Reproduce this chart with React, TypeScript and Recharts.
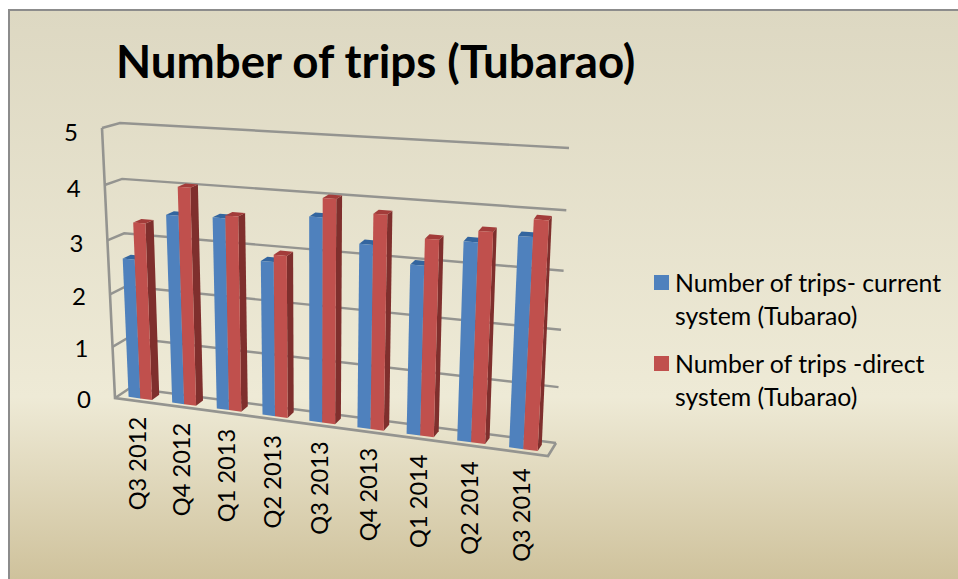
import { Bar, BarChart, CartesianGrid, Legend, XAxis, YAxis } from "recharts";

const quarters = ["Q3 2012", "Q4 2012", "Q1 2013", "Q2 2013", "Q3 2013", "Q4 2013", "Q1 2014", "Q2 2014", "Q3 2014"];
const currentSystem = [2.65, 3.52, 3.54, 2.84, 3.69, 3.29, 3.01, 3.48, 3.64];
const directSystem = [3.33, 4.03, 3.59, 2.97, 4.02, 3.82, 3.47, 3.67, 3.93];
const valueTicks = [0, 1, 2, 3, 4, 5];

const rows = quarters.map((q, i) => ({ q, current: currentSystem[i], direct: directSystem[i] }));

const FONT = "Lato, sans-serif";
const PLOT = { left: 100, top: 100, width: 500, height: 300 };

type Pt = [number, number];
const mix = (a: Pt, b: Pt, t: number): Pt => [a[0] + (b[0] - a[0]) * t, a[1] + (b[1] - a[1]) * t];

// box corners of the tilted 3D plot, as they sit on the page
const box = {
  flb: [115, 398] as Pt,
  frb: [548, 456] as Pt,
  blb: [130, 388] as Pt,
  brb: [556, 443] as Pt,
  flt: [102, 128] as Pt,
  frt: [564, 156] as Pt,
  blt: [120, 123] as Pt,
  brt: [569, 148] as Pt,
};

// u along categories, v up the value axis, w into the depth (all 0..1)
function project(u: number, v: number, w: number): Pt {
  const t = u / (u + (1 - u) * 1.12);
  const s = v / (v + (1 - v) * 1.07);
  const bottom = mix(mix(box.flb, box.frb, t), mix(box.blb, box.brb, t), w);
  const top = mix(mix(box.flt, box.frt, t), mix(box.blt, box.brt, t), w);
  return mix(bottom, top, s);
}

const toU = (x: number) => (x - PLOT.left) / PLOT.width;
const toV = (y: number) => (PLOT.top + PLOT.height - y) / PLOT.height;
const pts = (list: Pt[]) => list.map((p) => `${p[0].toFixed(1)},${p[1].toFixed(1)}`).join(" ");

const BAR_FRONT = 0.25;
const BAR_BACK = 0.75;

function makeBar(front: string, top: string, side: string) {
  return function Bar3D(props: any) {
    const { x, y, width } = props;
    const u0 = toU(x);
    const u1 = toU(x + width);
    const v = toV(y);
    const f = BAR_FRONT;
    const b = BAR_BACK;
    return (
      <g>
        <polygon fill={side} points={pts([project(u1, 0, f), project(u1, 0, b), project(u1, v, b), project(u1, v, f)])} />
        <polygon fill={top} points={pts([project(u0, v, f), project(u1, v, f), project(u1, v, b), project(u0, v, b)])} />
        <polygon fill={front} points={pts([project(u0, 0, f), project(u1, 0, f), project(u1, v, f), project(u0, v, f)])} />
      </g>
    );
  };
}

const LINE = "#949490";

function GridLine(props: any) {
  const v = toV(props.y1);
  const isFloor = Math.abs(v) < 0.001;
  return (
    <g key={props.y1} fill="none" stroke={LINE} strokeWidth={2.4}>
      <polyline points={pts([project(0, v, 0), project(0, v, 1), project(1, v, 1)])} />
      {isFloor && <polyline points={pts([project(0, 1, 0), project(0, 0, 0), project(1, 0, 0), project(1, 0, 1)])} strokeWidth={2.6} />}
    </g>
  );
}

function ValueTick(props: any) {
  const v = toV(props.y);
  const [px, py] = project(0, v, 0);
  return (
    <text x={px - 31} y={py + 3 * v} textAnchor="middle" dominantBaseline="central" fontFamily={FONT} fontSize={24} fill="#000">
      {props.payload.value}
    </text>
  );
}

function QuarterTick(props: any) {
  const [px, py] = project(toU(props.x), 0, 0);
  const ty = py + 16;
  return (
    <text
      x={px}
      y={ty}
      transform={`rotate(-90 ${px} ${ty})`}
      textAnchor="end"
      dominantBaseline="central"
      fontFamily={FONT}
      fontSize={23.6}
      fill="#000"
    >
      {props.payload.value}
    </text>
  );
}

function LegendBox({ payload }: any) {
  return (
    <div style={{ fontFamily: FONT, fontSize: 24.8, lineHeight: "33px", color: "#000" }}>
      {(payload ?? []).map((item: any) => (
        <div key={item.value} style={{ position: "relative", paddingLeft: 21, marginBottom: 15 }}>
          <span style={{ position: "absolute", left: 0, top: 9, width: 15, height: 15, background: item.color }} />
          {item.value}
        </div>
      ))}
    </div>
  );
}

export default function App() {
  return (
    <div style={{ position: "absolute", left: 0, top: 0, width: 958, height: 579, overflow: "hidden", background: "#fff" }}>
      <div
        style={{
          position: "absolute",
          left: 8,
          top: 9,
          right: 0,
          bottom: 0,
          borderLeft: "2px solid #8c8c8c",
          borderTop: "2px solid #8c8c8c",
          background: "linear-gradient(180deg, #ddd8c2 0%, #eeead6 68%, #cfc29c 100%)",
        }}
      />
      <div
        style={{
          position: "absolute",
          left: 116,
          top: 36,
          fontFamily: FONT,
          fontWeight: 700,
          fontSize: 45.7,
          lineHeight: "50px",
          whiteSpace: "nowrap",
          color: "#000",
        }}
      >
        Number of trips (Tubarao)
      </div>
      <div style={{ position: "absolute", left: 0, top: 0 }}>
        <BarChart
          width={958}
          height={579}
          data={rows}
          barGap={0}
          barCategoryGap="23%"
          margin={{ top: PLOT.top, left: 0, right: 958 - PLOT.left - PLOT.width, bottom: 0 }}
        >
          <CartesianGrid vertical={false} horizontal={GridLine as any} />
          <XAxis dataKey="q" height={579 - PLOT.top - PLOT.height} axisLine={false} tickLine={false} interval={0} tick={QuarterTick as any} />
          <YAxis width={PLOT.left} domain={[0, 5]} ticks={valueTicks} axisLine={false} tickLine={false} tick={ValueTick as any} />
          <Legend
            layout="vertical"
            align="center"
            verticalAlign="middle"
            itemSorter={null}
            content={LegendBox as any}
            wrapperStyle={{ position: "absolute", left: 654, top: 266, width: 295, bottom: "auto", right: "auto" }}
          />
          <Bar
            dataKey="current"
            name="Number of trips- current system (Tubarao)"
            fill="#4f81bd"
            isAnimationActive={false}
            shape={makeBar("#4f81bd", "#33659f", "#2f5a8f")}
          />
          <Bar
            dataKey="direct"
            name="Number of trips -direct system (Tubarao)"
            fill="#c0504d"
            isAnimationActive={false}
            shape={makeBar("#c0504d", "#a33c3a", "#7f2f2d")}
          />
        </BarChart>
      </div>
    </div>
  );
}
